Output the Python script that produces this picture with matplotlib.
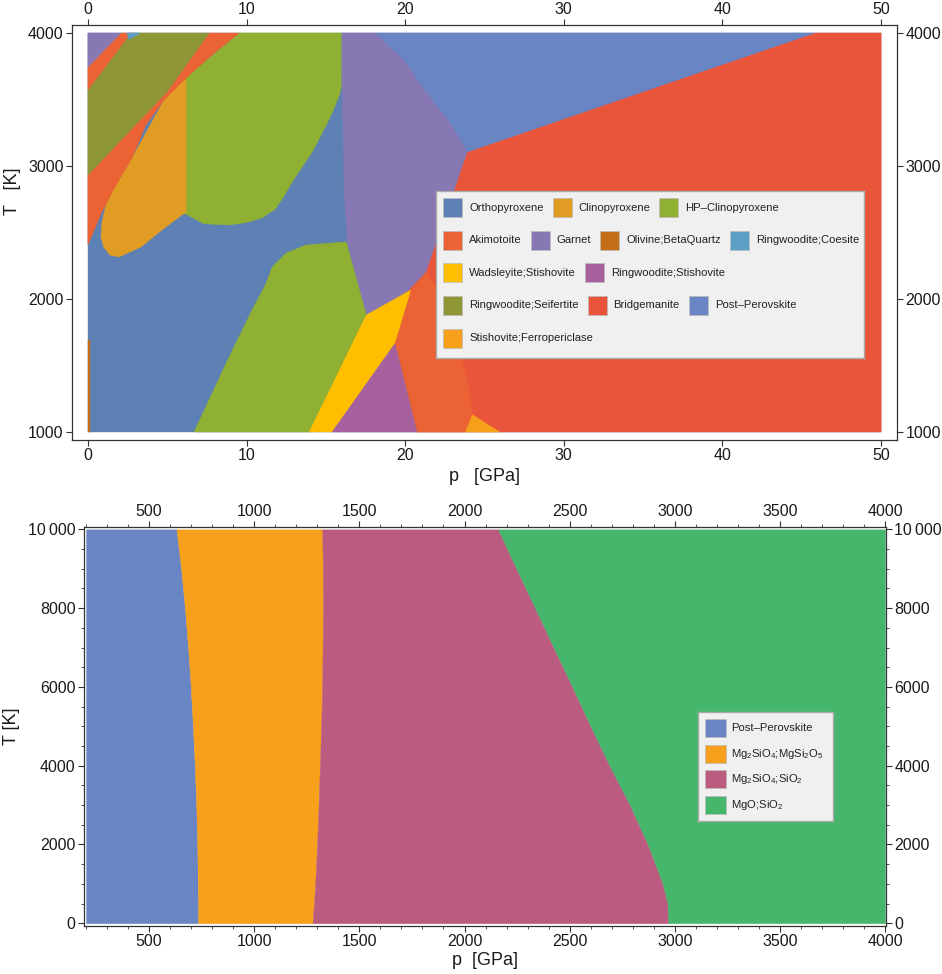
import matplotlib
matplotlib.use("Agg")
import matplotlib.pyplot as plt
from matplotlib.patches import Rectangle
from matplotlib.ticker import MultipleLocator, FuncFormatter

plt.rcParams['font.family'] = ['Liberation Sans', 'DejaVu Sans']

# ---- low-pressure diagram: phase fields as (p [GPa], T [K]) outlines ----
ortho = [(0, 1000), (50, 1000), (50, 4000), (0, 4000)]
bridgmanite = [(20.1, 2053), (21.3, 2203), (23.9, 3105), (45.8, 4000), (50, 4000), (50, 1000), (20.8, 1000)]
post_perovskite = [(18.1, 4000), (45.8, 4000), (23.9, 3105), (22.8, 3330), (21.3, 3556), (20.0, 3782), (19.0, 3895)]
garnet = [(15.97, 4000), (18.1, 4000), (19.0, 3895), (20.0, 3782), (21.3, 3556), (22.8, 3330), (23.9, 3105),
          (21.3, 2203), (20.1, 2053), (17.55, 1880), (16.35, 2421), (16.16, 2804), (16.04, 3556)]
hp_clino_upper = [(6.15, 3662), (9.53, 4000), (15.97, 4000), (15.97, 3586), (15.85, 3530), (15.4, 3400),
                  (15.03, 3308), (14.14, 3105), (12.88, 2880), (12.3, 2760), (11.8, 2675), (10.98, 2609),
                  (10.0, 2575), (8.90, 2556), (7.3, 2566), (6.15, 2640)]
hp_clino_lower = [(6.69, 1000), (8.90, 1564), (10.35, 1917), (11.24, 2120), (11.62, 2241), (12.5, 2346),
                  (13.76, 2406), (16.29, 2429), (17.55, 1880), (13.95, 1000)]
clino = [(6.19, 3700), (6.19, 2647), (5.93, 2632), (4.67, 2519), (3.35, 2391), (1.96, 2316), (1.4, 2330),
         (1.0, 2390), (0.82, 2466), (0.88, 2571), (1.20, 2744), (2.78, 3060), (4.80, 3496)]
ak_strip_lower = [(7.64, 4000), (9.53, 4000), (7.83, 3835), (6.19, 3662), (4.80, 3496), (3.66, 3308),
                  (2.78, 3060), (1.77, 2857), (0.88, 2654), (0, 2406), (0, 2932), (5.0, 3560)]
olive_band = [(2.71, 4000), (7.64, 4000), (5.0, 3560), (0, 2932), (0, 3571)]
ak_strip_upper = [(2.08, 4000), (2.71, 4000), (0, 3571), (0, 3744)]
garnet_corner = [(0, 4000), (2.08, 4000), (0, 3744)]
coesite = [(2.45, 4000), (3.3, 4000), (2.6, 3950)]
olivine_bq = [(0, 1000), (0.15, 1000), (0.15, 1690), (0, 1690)]
wads_sti = [(13.95, 1000), (17.55, 1880), (20.14, 2053), (20.39, 2068), (19.38, 1669), (15.40, 1000)]
rw_sti = [(15.40, 1000), (19.38, 1669), (20.77, 1000)]
akimotoite = [(20.39, 2068), (21.34, 2203), (22.4, 2000), (23.0, 1800), (23.42, 1616), (23.8, 1450),
              (24.05, 1316), (24.24, 1130), (23.8, 1000), (20.77, 1000), (19.38, 1669)]
sti_fp = [(23.8, 1000), (24.24, 1130), (25.95, 1000)]

c_ortho, c_clino, c_hpc = '#5e81b5', '#e19c24', '#8fb032'
c_aki, c_gar, c_olbq, c_rwcoe = '#eb6235', '#8778b3', '#c56e1a', '#5d9ec7'
c_wdst, c_rwst, c_rwsf = '#ffbf00', '#a5609d', '#8e9636'
c_bdg, c_ppv, c_stfp = '#e9553a', '#6a85c3', '#f6a01c'

top_labels = ['Orthopyroxene', 'Clinopyroxene', 'HP–Clinopyroxene',
              'Akimotoite', 'Garnet', 'Olivine;BetaQuartz', 'Ringwoodite;Coesite',
              'Wadsleyite;Stishovite', 'Ringwoodite;Stishovite',
              'Ringwoodite;Seifertite', 'Bridgemanite', 'Post–Perovskite',
              'Stishovite;Ferropericlase']
top_colors = [c_ortho, c_clino, c_hpc, c_aki, c_gar, c_olbq, c_rwcoe,
              c_wdst, c_rwst, c_rwsf, c_bdg, c_ppv, c_stfp]
top_rows = [3, 4, 2, 3, 1]

# ---- high-pressure diagram: boundaries p(T) in GPa ----
T_grid = [0, 500, 1000, 2000, 3000, 4000, 5000, 6000, 7000, 8000, 9000, 10000]
p_ppv_hi = [733, 733, 731, 729, 724, 717, 708, 698, 685, 670, 652, 630]
p_mix1_hi = [1277, 1284, 1290, 1299, 1306, 1312, 1318, 1323, 1325, 1327, 1326, 1323]
p_mix2_hi = [2970, 2966, 2943, 2872, 2787, 2690, 2600, 2513, 2424, 2336, 2247, 2160]
p_min, p_max = 200, 4000

bot_labels = ['Post–Perovskite',
              r'Mg$_\mathregular{2}$SiO$_\mathregular{4}$;MgSi$_\mathregular{2}$O$_\mathregular{5}$',
              r'Mg$_\mathregular{2}$SiO$_\mathregular{4}$;SiO$_\mathregular{2}$',
              r'MgO;SiO$_\mathregular{2}$']
bot_colors = ['#6a85c3', '#f6a01c', '#bc5b80', '#47b66d']

W, H = 942, 974
fig = plt.figure(figsize=(W / 100, H / 100), dpi=100)


def px_axes(x0, y0, x1, y1):
    return fig.add_axes([x0 / W, 1 - y1 / H, (x1 - x0) / W, (y1 - y0) / H])


def style_frame(ax):
    for s in ax.spines.values():
        s.set_color('#333333')
        s.set_linewidth(0.9)
    ax.tick_params(which='both', direction='out', top=True, right=True,
                   labeltop=True, labelright=True, colors='#333333',
                   labelcolor='#1a1a1a', labelsize=11.5, pad=2)
    ax.tick_params(which='major', length=4, width=0.8)
    ax.tick_params(which='minor', length=2.5, width=0.6)


def flow_legend(box, labels, colors, rows, sw, row_top, row_step, fs=8.1):
    x, y, w, h = box
    lax = px_axes(x, y, x + w, y + h)
    lax.set_xlim(0, w)
    lax.set_ylim(h, 0)
    lax.set_xticks([])
    lax.set_yticks([])
    lax.set_facecolor('#f0f0f0')
    for s in lax.spines.values():
        s.set_color('#a9a9a9')
        s.set_linewidth(1.0)
    rend = fig.canvas.get_renderer()
    k = 0
    for r, n in enumerate(rows):
        cy = row_top + r * row_step
        cx = 7
        for lab, col in zip(labels[k:k + n], colors[k:k + n]):
            lax.add_patch(Rectangle((cx, cy - sw[1] / 2), sw[0], sw[1], facecolor=col,
                                    edgecolor='#bcbcbc', lw=0.5))
            t = lax.text(cx + 26, cy, lab, fontsize=fs, va='center', ha='left', color='#222222')
            cx += 26 + t.get_window_extent(rend).width + 9
        k += n


# top panel
ax1 = px_axes(72, 25, 897, 440)
fields = [(ortho, c_ortho), (bridgmanite, c_bdg), (post_perovskite, c_ppv), (garnet, c_gar),
          (hp_clino_upper, c_hpc), (hp_clino_lower, c_hpc), (clino, c_clino),
          (ak_strip_lower, c_aki), (olive_band, c_rwsf), (ak_strip_upper, c_aki),
          (garnet_corner, c_gar), (coesite, c_rwcoe), (olivine_bq, c_olbq),
          (wads_sti, c_wdst), (rw_sti, c_rwst), (akimotoite, c_aki), (sti_fp, c_stfp)]
for poly, col in fields:
    ps, ts = zip(*poly)
    ax1.fill(ps, ts, color=col, lw=0.3, ec=col)
ax1.set_xlim(-1, 51)
ax1.set_ylim(940, 4060)
ax1.xaxis.set_major_locator(MultipleLocator(10))
ax1.yaxis.set_major_locator(MultipleLocator(1000))
style_frame(ax1)
ax1.set_xlabel('p   [GPa]', fontsize=13, color='#1a1a1a', labelpad=3)
ax1.set_ylabel('T   [K]', fontsize=13, color='#1a1a1a')
ax1.yaxis.set_label_coords(-0.062, 0.6)
flow_legend((436, 191, 428, 167), top_labels, top_colors, top_rows, (19, 19), 17, 32.5)

# bottom panel
ax2 = px_axes(84, 527, 886, 926)
edges = [[p_min] * len(T_grid), p_ppv_hi, p_mix1_hi, p_mix2_hi, [p_max] * len(T_grid)]
for i, col in enumerate(bot_colors):
    ax2.fill_betweenx(T_grid, edges[i], edges[i + 1], color=col, lw=0.3, ec=col)
ax2.set_xlim(190, 4005)
ax2.set_ylim(-70, 10060)
ax2.xaxis.set_major_locator(MultipleLocator(500))
ax2.xaxis.set_minor_locator(MultipleLocator(100))
ax2.yaxis.set_major_locator(MultipleLocator(2000))
ax2.yaxis.set_minor_locator(MultipleLocator(500))
ax2.yaxis.set_major_formatter(FuncFormatter(
    lambda v, _: f'{int(v):,}'.replace(',', '\u2009') if v >= 10000 else f'{int(v)}'))
style_frame(ax2)
ax2.set_xlabel('p  [GPa]', fontsize=13, color='#1a1a1a', labelpad=2)
ax2.set_ylabel('T [K]', fontsize=13, color='#1a1a1a')
ax2.yaxis.set_label_coords(-0.08, 0.5)
flow_legend((698, 712, 135, 109), bot_labels, bot_colors, [1, 1, 1, 1], (21, 18), 16, 25.7)

fig.savefig('out.png', dpi=100)
